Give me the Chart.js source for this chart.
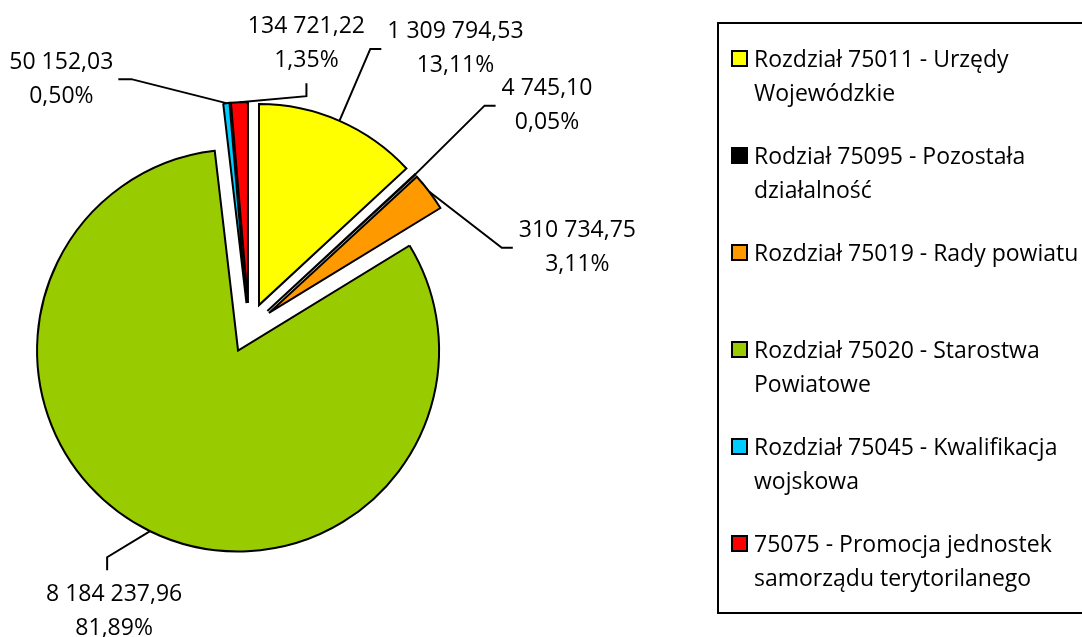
<!DOCTYPE html>
<html>
<head>
<meta charset="utf-8">
<script src="https://cdn.jsdelivr.net/npm/chart.js@4.4.1/dist/chart.umd.min.js"></script>
<style>
  html, body { margin: 0; padding: 0; background: #ffffff; }
  #wrap { width: 1082px; height: 637px; }
</style>
</head>
<body>
<div id="wrap"><canvas id="c" width="1082" height="637"></canvas></div>
<script>
// ---- data ----
const categories = [
  ['Rozdział 75011 - Urzędy', 'Wojewódzkie'],
  ['Rodział 75095 - Pozostała', 'działalność'],
  ['Rozdział 75019 - Rady powiatu'],
  ['Rozdział 75020 - Starostwa', 'Powiatowe'],
  ['Rozdział 75045 - Kwalifikacja', 'wojskowa'],
  ['75075 - Promocja jednostek', 'samorządu terytorilanego']
];
const values = [1309794.53, 4745.10, 310734.75, 8184237.96, 50152.03, 134721.22];
const colors = ['#FFFF00', '#000000', '#FF9900', '#99CC00', '#00CCFF', '#FF0000'];

// ---- styling / layout config ----
const FONT = '23px "Open Sans", Lato, sans-serif';
const LINE_H = 34;
const EXPLODE = 25;
const labelPlacement = [
  { dx: 116, dy: -72, side: 'left' },
  { dx: 132, dy: -69, side: 'left' },
  { dx: 148, dy: 56, side: 'left' },
  { dx: -36, dy: 80, side: 'top' },
  { dx: -165, dy: -24, side: 'right' },
  { dx: 67, dy: -59, side: 'bottom' }
];

const total = values.reduce((a, b) => a + b, 0);
function fmtNum(v) {
  const parts = v.toFixed(2).split('.');
  return parts[0].replace(/\B(?=(\d{3})+(?!\d))/g, ' ') + ',' + parts[1];
}
function fmtPct(v) {
  return (v / total * 100).toFixed(2).replace('.', ',') + '%';
}

const explodePlugin = {
  id: 'explode',
  beforeDatasetsDraw(chart) {
    const ca = chart.chartArea;
    const cx = (ca.left + ca.right) / 2, cy = (ca.top + ca.bottom) / 2;
    chart.getDatasetMeta(0).data.forEach(el => {
      const mid = (el.startAngle + el.endAngle) / 2;
      el.x = cx + Math.cos(mid) * EXPLODE;
      el.y = cy + Math.sin(mid) * EXPLODE;
    });
  }
};

const labelPlugin = {
  id: 'sliceLabels',
  afterDatasetsDraw(chart) {
    const ctx = chart.ctx;
    const meta = chart.getDatasetMeta(0);
    ctx.save();
    ctx.font = FONT;
    ctx.fillStyle = '#000';
    ctx.strokeStyle = '#000';
    ctx.lineWidth = 2;
    ctx.textAlign = 'center';
    ctx.textBaseline = 'middle';
    meta.data.forEach((el, i) => {
      const mid = (el.startAngle + el.endAngle) / 2;
      const ax = el.x + Math.cos(mid) * el.outerRadius;
      const ay = el.y + Math.sin(mid) * el.outerRadius;
      const p = labelPlacement[i];
      const lx = ax + p.dx, ly = ay + p.dy;
      const lines = [fmtNum(values[i]), fmtPct(values[i])];
      const w = Math.max(...lines.map(t => ctx.measureText(t).width));
      let ex, ey, bx, by;
      if (p.side === 'left') {
        ex = lx - w / 2 - 6; ey = ly; bx = ex - 11; by = ly;
      } else if (p.side === 'right') {
        ex = lx + w / 2 + 5; ey = ly; bx = ex + 13; by = ly;
      } else if (p.side === 'top') {
        ex = lx - 7; ey = ly - LINE_H - 7; bx = ex; by = ey - 13;
      } else {
        ex = lx; ey = ly + LINE_H + 6; bx = lx; by = ey + 13;
      }
      ctx.beginPath();
      ctx.moveTo(ax, ay);
      ctx.lineTo(bx, by);
      ctx.lineTo(ex, ey);
      ctx.stroke();
      ctx.fillText(lines[0], lx, ly - LINE_H / 2);
      ctx.fillText(lines[1], lx, ly + LINE_H / 2);
    });
    ctx.restore();
  }
};

const legendPlugin = {
  id: 'boxLegend',
  afterDraw(chart) {
    const ctx = chart.ctx;
    const left = 718, top = 23, bottom = 613;
    ctx.save();
    ctx.strokeStyle = '#000';
    ctx.lineWidth = 2;
    ctx.strokeRect(left, top, 1200 - left, bottom - top);
    ctx.font = FONT;
    ctx.textAlign = 'left';
    ctx.textBaseline = 'middle';
    categories.forEach((lines, i) => {
      const y0 = 59 + i * 97;
      ctx.fillStyle = colors[i];
      ctx.fillRect(732, y0 - 8, 15, 15);
      ctx.lineWidth = 2;
      ctx.strokeStyle = '#000';
      ctx.strokeRect(732, y0 - 8, 15, 15);
      ctx.fillStyle = '#000';
      lines.forEach((t, j) => ctx.fillText(t, 754, y0 + 1 + j * LINE_H));
    });
    ctx.restore();
  }
};

new Chart(document.getElementById('c'), {
  type: 'pie',
  data: {
    labels: categories,
    datasets: [{
      data: values,
      backgroundColor: colors,
      borderColor: '#000000',
      borderWidth: 2,
      borderJoinStyle: 'miter'
    }]
  },
  options: {
    responsive: false,
    animation: false,
    radius: 201,
    layout: { padding: { left: 0, right: 584, top: 19, bottom: 0 } },
    plugins: {
      legend: { display: false },
      tooltip: { enabled: false }
    },
    events: []
  },
  plugins: [explodePlugin, labelPlugin, legendPlugin]
});
</script>
</body>
</html>
